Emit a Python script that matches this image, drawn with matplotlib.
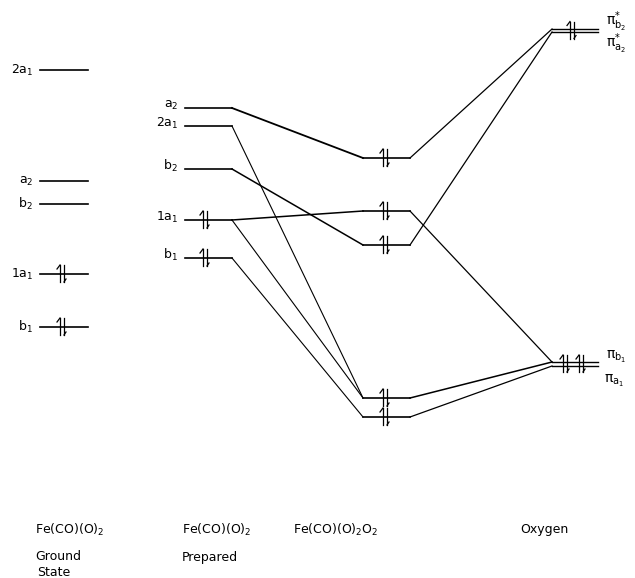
import matplotlib.pyplot as plt

# energy levels (vertical position, larger = lower energy)
ground_labels = ["2a$_1$", "a$_2$", "b$_2$", "1a$_1$", "b$_1$"]
ground_y = [70, 181, 204, 274, 327]
ground_e = [0, 0, 0, 2, 2]

prep_labels = ["a$_2$", "2a$_1$", "b$_2$", "1a$_1$", "b$_1$"]
prep_y = [108, 126, 169, 220, 258]
prep_e = [0, 0, 0, 2, 2]

complex_y = [158, 211, 245, 398, 417]
complex_e = [2, 2, 2, 2, 2]

oxy_labels = [r"π$^{*}_{\mathrm{b}_2}$", r"π$^{*}_{\mathrm{a}_2}$",
              r"π$_{\mathrm{b}_1}$", r"π$_{\mathrm{a}_1}$"]
oxy_y = [29, 32, 362, 366]
oxy_pairs = [1, 4]  # electrons on pi* and on pi

# correlation lines: (prepared index, complex index, width)
prep_to_complex = [(0, 0, 1.3), (1, 3, 0.8), (2, 2, 1.1), (3, 1, 1.1), (3, 3, 0.8), (4, 4, 0.8)]
# (complex index, oxygen index, width)
complex_to_oxy = [(0, 0, 0.9), (2, 1, 0.9), (1, 2, 0.9), (3, 2, 1.1), (4, 3, 0.9)]

cols = {"ground": (40, 88), "prep": (185, 232), "complex": (363, 410), "oxy": (552, 598)}

fig = plt.figure(figsize=(6.35, 5.78), dpi=100)
ax = fig.add_axes([0, 0, 1, 1])
ax.set_xlim(0, 635)
ax.set_ylim(578, 0)
ax.axis("off")


def electrons(xc, y, n):
    # pairs of half-headed arrows
    for k in range(n // 2):
        x = xc + k * 16
        ax.plot([x - 2, x - 2], [y + 8, y - 9], color="k", lw=0.9)
        ax.plot([x - 2, x - 5], [y - 9, y - 5], color="k", lw=0.9)
        ax.plot([x + 2, x + 2], [y - 9, y + 8], color="k", lw=0.9)
        ax.plot([x + 2, x + 4], [y + 8, y + 5], color="k", lw=0.9)


x0, x1 = cols["ground"]
for lab, y, e in zip(ground_labels, ground_y, ground_e):
    ax.plot([x0, x1], [y, y], color="k", lw=1.2)
    ax.text(x0 - 7, y, lab, ha="right", va="center", fontsize=9)
    electrons(62, y, e)

x0, x1 = cols["prep"]
for lab, y, e in zip(prep_labels, prep_y, prep_e):
    ax.plot([x0, x1], [y, y], color="k", lw=1.2)
    ax.text(x0 - 7, y - 3, lab, ha="right", va="center", fontsize=9)
    electrons(205, y, e)

x0, x1 = cols["complex"]
for y, e in zip(complex_y, complex_e):
    ax.plot([x0, x1], [y, y], color="k", lw=1.2)
    electrons(385, y, e)

x0, x1 = cols["oxy"]
for y in oxy_y:
    ax.plot([x0, x1], [y, y], color="k", lw=1.0)
electrons(572, sum(oxy_y[:2]) / 2, 2 * oxy_pairs[0])
electrons(565, sum(oxy_y[2:]) / 2, oxy_pairs[1])
ax.text(606, 22, oxy_labels[0], ha="left", va="center", fontsize=10)
ax.text(606, 44, oxy_labels[1], ha="left", va="center", fontsize=10)
ax.text(606, 357, oxy_labels[2], ha="left", va="center", fontsize=10)
ax.text(604, 381, oxy_labels[3], ha="left", va="center", fontsize=10)

for i, j, w in prep_to_complex:
    ax.plot([cols["prep"][1], cols["complex"][0]], [prep_y[i], complex_y[j]], color="k", lw=w)
for i, j, w in complex_to_oxy:
    ax.plot([cols["complex"][1], cols["oxy"][0]], [complex_y[i], oxy_y[j]], color="k", lw=w)

# column captions
ax.text(35, 530, "Fe(CO)(O)$_2$", ha="left", va="center", fontsize=9)
ax.text(35, 557, "Ground", ha="left", va="center", fontsize=9)
ax.text(37, 572, "State", ha="left", va="center", fontsize=9)
ax.text(182, 530, "Fe(CO)(O)$_2$", ha="left", va="center", fontsize=9)
ax.text(182, 557, "Prepared", ha="left", va="center", fontsize=9)
ax.text(293, 530, "Fe(CO)(O)$_2$O$_2$", ha="left", va="center", fontsize=9)
ax.text(520, 530, "Oxygen", ha="left", va="center", fontsize=9)

fig.savefig("out.png", dpi=100)
